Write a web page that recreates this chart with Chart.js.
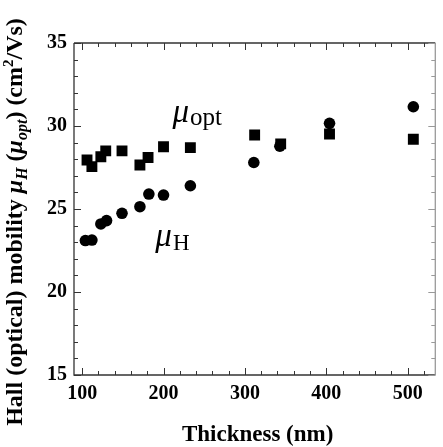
<!DOCTYPE html>
<html>
<head>
<meta charset="utf-8">
<script src="https://cdn.jsdelivr.net/npm/chart.js@4.4.1/dist/chart.umd.min.js"></script>
<style>
  html, body { margin: 0; padding: 0; background: #fff; }
  #wrap { width: 443px; height: 447px; position: relative; }
</style>
</head>
<body>
<div id="wrap"><canvas id="c" width="443" height="447"></canvas></div>
<script>
// ---- data ----
const thicknessHall = [104, 112, 123, 130, 149, 171, 182, 200, 233, 311, 343, 404, 507];
const mobilityHall  = [23.1, 23.13, 24.1, 24.3, 24.74, 25.14, 25.9, 25.84, 26.4, 27.8, 28.78, 30.16, 31.16];
const thicknessOpt  = [106, 112, 123, 129, 149, 171, 181, 200, 233, 312, 344, 404, 507];
const mobilityOpt   = [27.95, 27.55, 28.15, 28.5, 28.5, 27.65, 28.1, 28.75, 28.7, 29.46, 28.92, 29.52, 29.2];

const xTickLabels = [100, 200, 300, 400, 500];
const xMinorTicks = [100, 120, 140, 160, 180, 200, 220, 240, 260, 280, 300, 320, 340, 360, 380, 400, 420, 440, 460, 480, 500, 520];
const yTickLabels = [15, 20, 25, 30, 35];
const yMinorTicks = [15, 16, 17, 18, 19, 20, 21, 22, 23, 24, 25, 26, 27, 28, 29, 30, 31, 32, 33, 34, 35];

const xTitle = 'Thickness (nm)';
const labelOpt = ['\u03bc', 'opt'];
const labelHall = ['\u03bc', 'H'];

const SERIF = '"Liberation Serif", "Times New Roman", serif';

const framePlugin = {
  id: 'frame',
  afterDatasetsDraw(chart) {
    const ctx = chart.ctx;
    const a = chart.chartArea;
    const xs = chart.scales.x, ys = chart.scales.y;
    ctx.save();
    ctx.lineWidth = 1.3;
    ctx.strokeStyle = '#333';
    ctx.beginPath();
    ctx.moveTo(a.left, a.top); ctx.lineTo(a.left, a.bottom); ctx.lineTo(a.right, a.bottom);
    ctx.moveTo(a.left, a.top); ctx.lineTo(a.right, a.top);
    ctx.stroke();
    ctx.strokeStyle = '#999';
    ctx.beginPath();
    ctx.moveTo(a.right, a.top); ctx.lineTo(a.right, a.bottom);
    ctx.stroke();
    ctx.lineWidth = 1;
    ctx.strokeStyle = '#333';
    ctx.beginPath();
    xMinorTicks.forEach(v => {
      const p = Math.round(xs.getPixelForValue(v)) + 0.5;
      const len = xTickLabels.includes(v) ? 7 : 4;
      ctx.moveTo(p, a.bottom); ctx.lineTo(p, a.bottom - len);
      ctx.moveTo(p, a.top); ctx.lineTo(p, a.top + len);
    });
    yMinorTicks.forEach(v => {
      const p = Math.round(ys.getPixelForValue(v)) + 0.5;
      const len = yTickLabels.includes(v) ? 7 : 4;
      ctx.moveTo(a.left, p); ctx.lineTo(a.left + len, p);
    });
    ctx.stroke();
    ctx.strokeStyle = '#999';
    ctx.beginPath();
    yMinorTicks.forEach(v => {
      const p = Math.round(ys.getPixelForValue(v)) + 0.5;
      const len = yTickLabels.includes(v) ? 7 : 4;
      ctx.moveTo(a.right, p); ctx.lineTo(a.right - len, p);
    });
    ctx.stroke();

    ctx.fillStyle = '#000';
    function drawSub(parts, xv, yv, big, small, drop) {
      let px = xs.getPixelForValue(xv), py = ys.getPixelForValue(yv);
      ctx.textBaseline = 'alphabetic';
      ctx.textAlign = 'left';
      ctx.font = 'italic ' + big + 'px ' + SERIF;
      ctx.fillText(parts[0], px, py);
      px += ctx.measureText(parts[0]).width + 1;
      ctx.font = small + 'px ' + SERIF;
      ctx.fillText(parts[1], px, py + drop);
    }
    drawSub(labelOpt, 211, 30.25, 33, 25, 3);
    drawSub(labelHall, 190, 22.8, 33, 23, 4);

    ctx.font = 'bold 23px ' + SERIF;
    ctx.textAlign = 'center';
    ctx.textBaseline = 'middle';
    ctx.fillText(xTitle, (a.left + a.right) / 2 + 3, 435);

    const B = 24;
    const segs = [
      ['Hall (optical) mobility ', 'bold ' + B + 'px', 0],
      ['\u03bc', 'italic bold ' + B + 'px', 0],
      ['H', 'italic bold 16px', 5],
      [' (', 'bold ' + B + 'px', 0],
      ['\u03bc', 'italic bold ' + B + 'px', 0],
      ['opt', 'italic bold 16px', 5],
      [') (cm', 'bold ' + B + 'px', 0],
      ['2', 'bold 15px', -9],
      ['/Vs)', 'bold ' + B + 'px', 0]
    ];
    let total = 0;
    segs.forEach(s => { ctx.font = s[1] + ' ' + SERIF; total += ctx.measureText(s[0]).width; });
    ctx.save();
    ctx.translate(22, 222);
    ctx.rotate(-Math.PI / 2);
    ctx.textAlign = 'left';
    ctx.textBaseline = 'alphabetic';
    let cx = -total / 2;
    segs.forEach(s => {
      ctx.font = s[1] + ' ' + SERIF;
      ctx.fillText(s[0], cx, s[2]);
      cx += ctx.measureText(s[0]).width;
    });
    ctx.restore();
    ctx.restore();
  }
};

new Chart(document.getElementById('c'), {
  type: 'scatter',
  data: {
    datasets: [
      {
        label: 'Hall',
        data: thicknessHall.map((x, i) => ({ x, y: mobilityHall[i] })),
        pointStyle: 'circle',
        pointRadius: 5.8,
        backgroundColor: '#000',
        borderColor: '#000',
        borderWidth: 0
      },
      {
        label: 'Optical',
        data: thicknessOpt.map((x, i) => ({ x, y: mobilityOpt[i] })),
        pointStyle: 'rect',
        pointRadius: 7.7,
        backgroundColor: '#000',
        borderColor: '#000',
        borderWidth: 0
      }
    ]
  },
  options: {
    responsive: false,
    animation: false,
    devicePixelRatio: 1,
    layout: { padding: { top: 43, right: 1, left: 0, bottom: 0 } },
    plugins: { legend: { display: false }, tooltip: { enabled: false } },
    scales: {
      x: {
        type: 'linear',
        min: 90, max: 534,
        afterBuildTicks: s => { s.ticks = xTickLabels.map(v => ({ value: v })); },
        afterFit: s => { s.height = 72; },
        grid: { display: false, drawTicks: false },
        border: { display: false },
        ticks: { color: '#000', font: { family: SERIF, size: 20, weight: 'bold' }, padding: 7, maxRotation: 0 }
      },
      y: {
        type: 'linear',
        min: 15, max: 35,
        afterBuildTicks: s => { s.ticks = yTickLabels.map(v => ({ value: v })); },
        afterFit: s => { s.width = 74; },
        grid: { display: false, drawTicks: false },
        border: { display: false },
        ticks: { color: '#000', font: { family: SERIF, size: 20, weight: 'bold' }, padding: 7 }
      }
    }
  },
  plugins: [framePlugin]
});
</script>
</body>
</html>
